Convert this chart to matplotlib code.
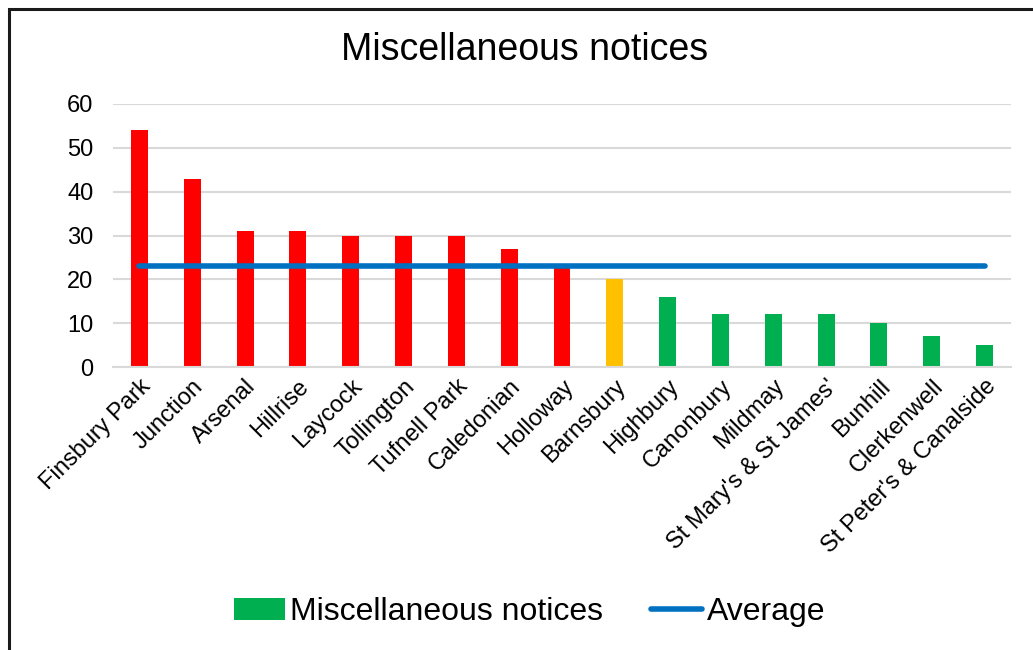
import matplotlib

matplotlib.use("Agg")
import matplotlib.pyplot as plt
from matplotlib.lines import Line2D
from matplotlib.patches import Patch, Rectangle

plt.rcParams["font.family"] = ["Liberation Sans", "DejaVu Sans"]

wards = [
    "Finsbury Park", "Junction", "Arsenal", "Hillrise", "Laycock", "Tollington",
    "Tufnell Park", "Caledonian", "Holloway", "Barnsbury", "Highbury", "Canonbury",
    "Mildmay", "St Mary's & St James'", "Bunhill", "Clerkenwell",
    "St Peter's & Canalside",
]
notices = [54, 43, 31, 31, 30, 30, 30, 27, 23, 20, 16, 12, 12, 12, 10, 7, 5]
# RAG banding per ward
band = ["red"] * 9 + ["amber"] + ["green"] * 7
band_colours = {"red": "#ff0000", "amber": "#ffc000", "green": "#00b050"}
average = sum(notices) / len(notices)

fig = plt.figure(figsize=(10.33, 6.5), dpi=100)
ax = fig.add_axes([113 / 1033, 1 - 367 / 650, 898 / 1033, 263 / 650])

x = list(range(len(wards)))
ax.bar(x, notices, width=0.32, color=[band_colours[b] for b in band], zorder=2)
ax.plot([x[0], x[-1]], [average] * 2, color="#0070c0", linewidth=4,
        solid_capstyle="round", zorder=3)

ax.set_xlim(-0.5, len(wards) - 0.5)
ax.set_ylim(0, 60)
ax.set_yticks(range(0, 61, 10))
ax.yaxis.grid(True, color="#d9d9d9", linewidth=1.5, zorder=0)
ax.set_axisbelow(True)
for side in ("top", "right", "left"):
    ax.spines[side].set_visible(False)
ax.spines["bottom"].set_color("#d9d9d9")
ax.spines["bottom"].set_linewidth(1.5)
ax.tick_params(axis="both", length=0, labelsize=17)
ax.tick_params(axis="y", pad=14)
ax.tick_params(axis="x", pad=6)
ax.set_xticks(x)
ax.set_xticklabels(wards, rotation=45, ha="right", rotation_mode="anchor")

fig.text(525 / 1033, 1 - 50 / 650, "Miscellaneous notices", ha="center",
         va="center", fontsize=27)

handles = [
    Patch(facecolor="#00b050", label="Miscellaneous notices"),
    Line2D([], [], color="#0070c0", linewidth=4, solid_capstyle="round",
           label="Average"),
]
fig.legend(handles=handles, loc="center", bbox_to_anchor=(530 / 1033, 1 - 612 / 650),
           ncol=2, frameon=False, fontsize=23, handlelength=1.6,
           handletextpad=0.15, columnspacing=1.5)

# chart area outline
fig.patches.append(Rectangle((9 / 1033, -0.1), 1.2, 1 - 9 / 650 + 0.1,
                             transform=fig.transFigure, fill=False,
                             edgecolor="#1a1a1a", linewidth=2.2))

fig.savefig("out.png", dpi=100, facecolor="white")
